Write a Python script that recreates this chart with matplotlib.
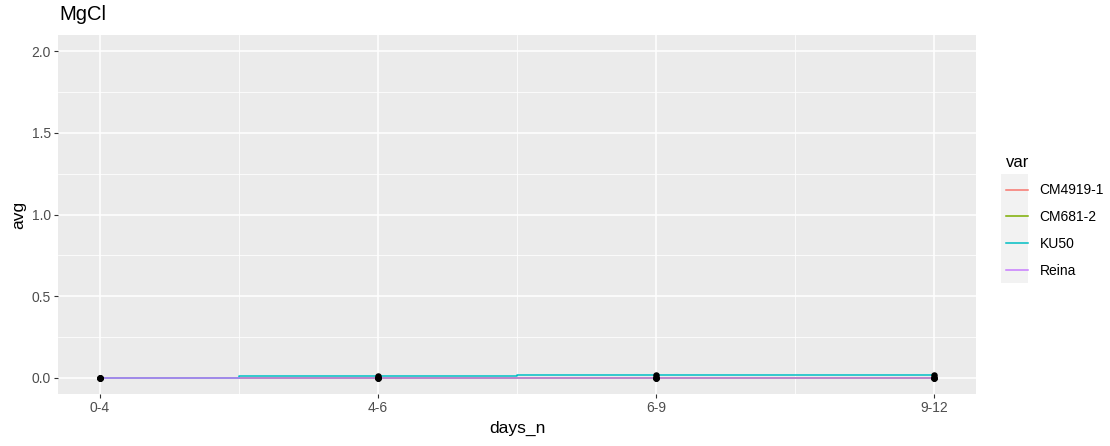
import numpy as np
import matplotlib.pyplot as plt
from matplotlib.lines import Line2D
from matplotlib.patches import Rectangle

plt.rcParams['font.family'] = ['Liberation Sans', 'DejaVu Sans']

days_n = ['0-4', '4-6', '6-9', '9-12']
varieties = ['CM4919-1', 'CM681-2', 'KU50', 'Reina']
cm4919_1 = [0.0, 0.0, 0.0, 0.0]
cm681_2 = [0.0, 0.0, 0.0, 0.0]
ku50 = [0.0, 0.008, 0.017, 0.017]
reina = [0.0, 0.0, 0.0, 0.0]
colors = ['#F8766D', '#7CAE00', '#00BFC4', '#C77CFF']

series = [cm4919_1, cm681_2, ku50, reina]
x = np.arange(1, len(days_n) + 1)

fig = plt.figure(figsize=(11.1, 4.46), dpi=100)
ax = fig.add_axes([58 / 1110, 1 - 394 / 446, (976 - 58) / 1110, (394 - 35) / 446])
ax.set_facecolor('#EBEBEB')

# ggplot style grid
for yv in np.arange(0, 2.01, 0.5):
    ax.axhline(yv, color='white', lw=1.1, zorder=0)
for yv in np.arange(0.25, 2.0, 0.5):
    ax.axhline(yv, color='white', lw=0.55, zorder=0)
for xv in x:
    ax.axvline(xv, color='white', lw=1.1, zorder=0)
for xv in x[:-1] + 0.5:
    ax.axvline(xv, color='white', lw=0.55, zorder=0)

for vals, c in zip(series, colors):
    ax.step(x, vals, where='mid', color=c, lw=1.1, zorder=2)
for vals in series:
    ax.scatter(x, vals, s=22, color='black', zorder=3, linewidths=0)

ax.set_xlim(1 - 0.15, 4 + 0.15)
ax.set_ylim(-0.1, 2.1)
ax.set_xticks(x)
ax.set_xticklabels(days_n)
ax.set_yticks(np.arange(0, 2.01, 0.5))
ax.set_yticklabels([f'{v:.1f}' for v in np.arange(0, 2.01, 0.5)])
ax.tick_params(length=3, width=0.8, color='#333333', labelcolor='#4D4D4D',
               labelsize=10, pad=2)
for s in ax.spines.values():
    s.set_visible(False)

ax.set_xlabel('days_n', fontsize=12.5, labelpad=4)
ax.set_ylabel('avg', fontsize=12.5, labelpad=4)
fig.text(59 / 1110, 1 - 15 / 446, 'MgCl', fontsize=14.5, ha='left', va='center')

# legend
fig.patches.append(Rectangle((1001 / 1110, 1 - 283 / 446), 27 / 1110, 109 / 446,
                             transform=fig.transFigure, facecolor='#F2F2F2',
                             edgecolor='none', zorder=0))
handles = [Line2D([], [], color=c, lw=1.1) for c in colors]
leg = fig.legend(handles, varieties, title='var', loc='upper left',
                 bbox_to_anchor=(993 / 1110, 1 - 143 / 446), frameon=False,
                 fontsize=10, title_fontsize=12, handlelength=1.6,
                 labelspacing=0.93, handletextpad=0.85, alignment='left')

fig.savefig('out.png', dpi=100)
